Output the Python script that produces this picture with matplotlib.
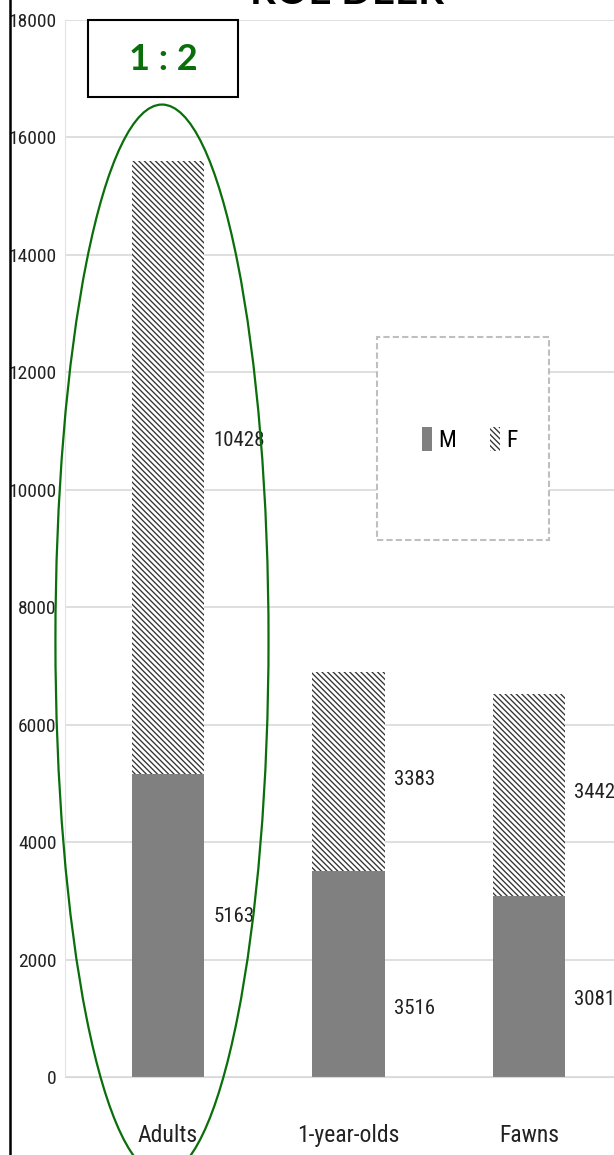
import matplotlib
matplotlib.use("Agg")
import matplotlib.pyplot as plt
from matplotlib import font_manager
from matplotlib.patches import Ellipse, Rectangle, Patch
from matplotlib.lines import Line2D

categories = ["Adults", "1-year-olds", "Fawns"]
males = [5163, 3516, 3081]
females = [10428, 3383, 3442]
# where each value label sits inside its segment (fraction of the segment height)
male_label_pos = [0.53, 0.33, 0.43]
female_label_pos = [0.545, 0.46, 0.51]
yticks = list(range(0, 18001, 2000))

# pick the narrowest family that is actually installed
installed = {f.name for f in font_manager.fontManager.ttflist}
narrow_family = "DejaVu Sans"
scale = 0.75
for name, s in [("Liberation Sans Narrow", 1.0), ("DejaVu Sans Condensed", 0.9),
                ("Roboto Condensed", 1.0), ("Open Sans Condensed", 1.0), ("Roboto", 0.85)]:
    if name in installed:
        narrow_family, scale = name, s
        break
narrow = [narrow_family, "DejaVu Sans"]
tick_size = 14 * scale
label_size = 15 * scale
cat_size = 17 * scale

green = "#0a6e0a"
grey = "#808080"
hatch_grey = "#333333"
text_col = "#222222"
stripes = "\\" * 6

plt.rcParams["hatch.linewidth"] = 0.95

fig = plt.figure(figsize=(6.14, 11.55), dpi=100)
ax = fig.add_axes([65 / 614, 1 - 1077 / 1155, 549 / 614, 1057 / 1155])

x = list(range(len(categories)))
width = 0.40
ax.bar(x, males, width, color=grey, zorder=2)
ax.bar(x, females, width, bottom=males, facecolor="white", edgecolor=hatch_grey,
       hatch=stripes, linewidth=0, zorder=2)

for i in x:
    ax.text(i + width / 2 + 0.05, males[i] * male_label_pos[i], str(males[i]),
            va="center", ha="left", fontsize=label_size, family=narrow, color=text_col)
    ax.text(i + width / 2 + 0.05, males[i] + females[i] * female_label_pos[i], str(females[i]),
            va="center", ha="left", fontsize=label_size, family=narrow, color=text_col)

ax.set_xlim(-0.57, 2.47)
ax.set_ylim(0, 18000)
ax.set_yticks(yticks)
ax.set_yticklabels([str(t) for t in yticks], family=narrow, fontsize=tick_size, color=text_col)
ax.set_xticks(x)
ax.set_xticklabels(categories, family=narrow, fontsize=cat_size, color=text_col)
ax.tick_params(axis="y", length=0, pad=6)
ax.tick_params(axis="x", length=0, pad=34)
ax.yaxis.grid(True, color="#d9d9d9", linewidth=1.2, zorder=0)
ax.set_axisbelow(True)
for side in ["top", "right"]:
    ax.spines[side].set_visible(False)
ax.spines["left"].set_color("#e3e3e3")
ax.spines["bottom"].set_color("#d9d9d9")

# legend panel with a dashed border
ax.add_patch(Rectangle((1.158, 9148), 0.953, 3458, facecolor="white", edgecolor="#bfbfbf",
                       linestyle=(0, (3, 1.5)), linewidth=1.5, zorder=3))
handles = [Patch(facecolor=grey, edgecolor="none"),
           Patch(facecolor="white", edgecolor=hatch_grey, hatch=stripes, linewidth=0)]
leg = ax.legend(handles, ["M", "F"], ncol=2, frameon=False, loc="center",
                bbox_to_anchor=(1.67, 10852), bbox_transform=ax.transData,
                prop={"family": narrow, "size": cat_size}, handlelength=0.42,
                handleheight=1.2, handletextpad=0.25, columnspacing=1.45,
                borderpad=0, borderaxespad=0)
leg.set_zorder(4)

# ratio box and ellipse around the adults bar
ax.add_patch(Rectangle((-0.443, 16695), 0.831, 1305, facecolor="white", edgecolor="black",
                       linewidth=1.5, zorder=4, clip_on=False))
ax.text(-0.028, 17330, "1 : 2", ha="center", va="center", fontsize=26, fontweight="bold",
        family=["Lato", "DejaVu Sans"], color=green, zorder=5)
ax.add_patch(Ellipse((-0.033, 7445), 1.18, 18230, facecolor="none", edgecolor=green,
                     linewidth=1.6, zorder=5, clip_on=False))

fig.text(0.565, 1 - 4 / 1155, "ROE DEER", ha="center", va="baseline", fontsize=29,
         fontweight="bold", family=["Lato", "DejaVu Sans"], color="black")
fig.add_artist(Line2D([10 / 614, 10 / 614], [0, 1], color="black", linewidth=1.8))

fig.savefig("out.png", dpi=100)
